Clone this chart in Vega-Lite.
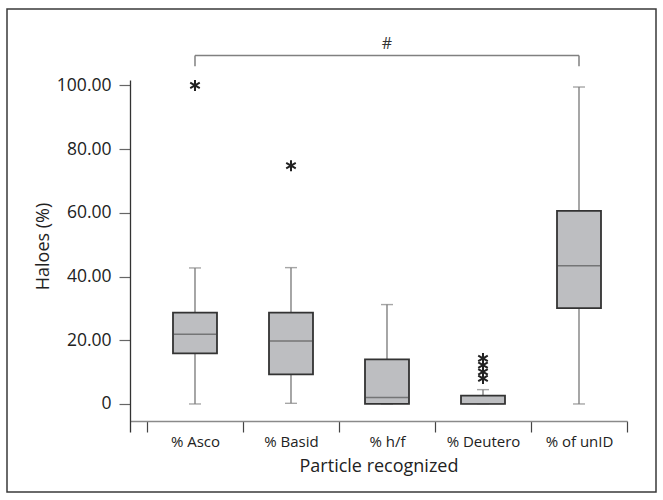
{
  "$schema": "https://vega.github.io/schema/vega-lite/v6.json",
  "width": 649,
  "height": 483,
  "autosize": {"type": "none"},
  "padding": {"left": 7, "top": 9, "right": 7, "bottom": 8},
  "background": "white",
  "config": {
    "view": {"stroke": "#3a3a3a", "strokeWidth": 1.5},
    "font": "Open Sans",
    "axis": {"grid": false}
  },
  "datasets": {
    "boxes": [
      {"cat": "% Asco", "lower": 0, "q1": 15.9, "median": 21.9, "q3": 28.7, "upper": 42.7},
      {"cat": "% Basid", "lower": 0.2, "q1": 9.3, "median": 19.8, "q3": 28.7, "upper": 42.8},
      {"cat": "% h/f", "lower": 0, "q1": 0, "median": 2.0, "q3": 14.0, "upper": 31.2},
      {"cat": "% Deutero", "lower": 0, "q1": 0, "median": 0, "q3": 2.6, "upper": 4.5},
      {"cat": "% of unID", "lower": 0, "q1": 30.1, "median": 43.4, "q3": 60.6, "upper": 99.5}
    ],
    "outliers": [
      {"cat": "% Asco", "value": 100},
      {"cat": "% Basid", "value": 74.8},
      {"cat": "% Deutero", "value": 14.3},
      {"cat": "% Deutero", "value": 12.2},
      {"cat": "% Deutero", "value": 10.1},
      {"cat": "% Deutero", "value": 8.0}
    ],
    "bracket": [{"a": "% Asco", "b": "% of unID", "y": 109.4}],
    "bracketEnds": [
      {"cat": "% Asco", "y1": 106, "y2": 109.4},
      {"cat": "% of unID", "y1": 106, "y2": 109.4}
    ],
    "sig": [{"cat": "% h/f", "y": 112.9, "label": "#"}]
  },
  "layer": [
    {
      "data": {"name": "boxes"},
      "mark": {"type": "rule", "color": "#808080", "strokeWidth": 1.4},
      "encoding": {
        "x": {
          "field": "cat", "type": "nominal",
          "scale": {
            "type": "band",
            "domain": ["% Asco", "% Basid", "% h/f", "% Deutero", "% of unID"],
            "range": [123, 620],
            "paddingInner": 0, "paddingOuter": 0.0885, "align": 1
          },
          "axis": {
            "title": "Particle recognized",
            "offset": -71,
            "labelAngle": 0,
            "tickBand": "extent",
            "tickSize": 11,
            "tickColor": "#444",
            "tickWidth": 1.2,
            "domainColor": "#8a8a8a",
            "domainWidth": 1.5,
            "labelFontSize": 15,
            "labelColor": "#222",
            "labelPadding": 2,
            "titleFontSize": 18,
            "titleFontWeight": "normal",
            "titleColor": "#222",
            "titlePadding": 8
          }
        },
        "y": {
          "field": "lower", "type": "quantitative",
          "scale": {"domain": [-8.8, 101.7], "range": [423, 71], "nice": false, "zero": false},
          "axis": {
            "title": "Haloes (%)",
            "offset": -123,
            "values": [0, 20, 40, 60, 80, 100],
            "labelExpr": "datum.value == 0 ? '0' : format(datum.value, '.2f')",
            "tickSize": 11,
            "tickColor": "#666",
            "tickWidth": 1.2,
            "domainColor": "#333",
            "domainWidth": 1.3,
            "labelFontSize": 17.5,
            "labelColor": "#222",
            "labelPadding": 8,
            "titleFontSize": 18,
            "titleFontWeight": "normal",
            "titleColor": "#222",
            "titlePadding": 4,
            "titleY": 237
          }
        },
        "y2": {"field": "upper"}
      }
    },
    {
      "data": {"name": "boxes"},
      "mark": {"type": "tick", "color": "#808080", "thickness": 1.4, "size": 12},
      "encoding": {
        "x": {"field": "cat", "type": "nominal"},
        "y": {"field": "upper", "type": "quantitative"}
      }
    },
    {
      "data": {"name": "boxes"},
      "mark": {"type": "tick", "color": "#808080", "thickness": 1.4, "size": 12},
      "encoding": {
        "x": {"field": "cat", "type": "nominal"},
        "y": {"field": "lower", "type": "quantitative"}
      }
    },
    {
      "data": {"name": "boxes"},
      "mark": {"type": "bar", "fill": "#bdbec1", "stroke": "#333", "strokeWidth": 1.8, "width": 44},
      "encoding": {
        "x": {"field": "cat", "type": "nominal"},
        "y": {"field": "q1", "type": "quantitative"},
        "y2": {"field": "q3"}
      }
    },
    {
      "data": {"name": "boxes"},
      "mark": {"type": "tick", "color": "#555", "thickness": 1.5, "size": 42},
      "encoding": {
        "x": {"field": "cat", "type": "nominal"},
        "y": {"field": "median", "type": "quantitative"}
      }
    },
    {
      "data": {"name": "outliers"},
      "mark": {
        "type": "point",
        "shape": "M0,-1L0,1M-0.87,-0.5L0.87,0.5M-0.87,0.5L0.87,-0.5",
        "size": 121, "filled": false, "stroke": "#222", "strokeWidth": 2, "opacity": 1
      },
      "encoding": {
        "x": {"field": "cat", "type": "nominal"},
        "y": {"field": "value", "type": "quantitative"}
      }
    },
    {
      "data": {"name": "bracket"},
      "mark": {"type": "rule", "color": "#808080", "strokeWidth": 1.5},
      "encoding": {
        "x": {"field": "a", "type": "nominal"},
        "x2": {"field": "b"},
        "y": {"field": "y", "type": "quantitative"}
      }
    },
    {
      "data": {"name": "bracketEnds"},
      "mark": {"type": "rule", "color": "#808080", "strokeWidth": 1.5},
      "encoding": {
        "x": {"field": "cat", "type": "nominal"},
        "y": {"field": "y1", "type": "quantitative"},
        "y2": {"field": "y2"}
      }
    },
    {
      "data": {"name": "sig"},
      "mark": {"type": "text", "fontSize": 16, "color": "#333", "baseline": "middle"},
      "encoding": {
        "x": {"field": "cat", "type": "nominal"},
        "y": {"field": "y", "type": "quantitative"},
        "text": {"field": "label"}
      }
    }
  ]
}
